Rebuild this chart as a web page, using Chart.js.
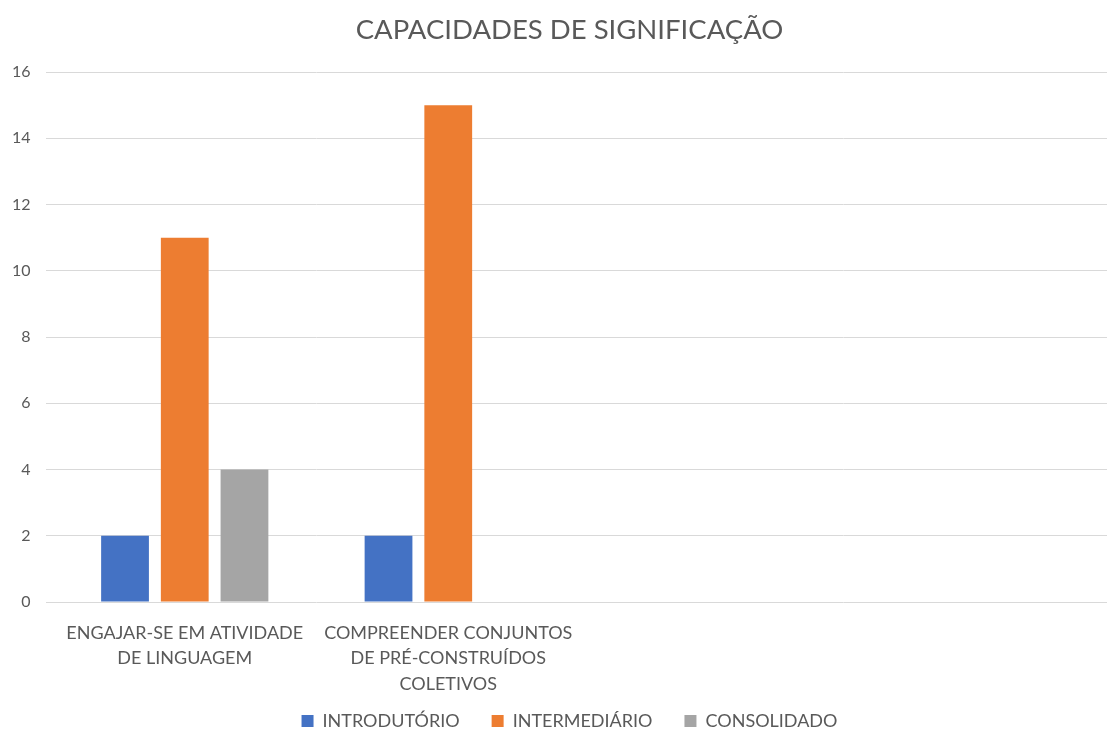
<!DOCTYPE html>
<html>
<head>
<meta charset="utf-8">
<script src="https://cdn.jsdelivr.net/npm/chart.js@4"></script>
<style>
  html, body { margin: 0; padding: 0; background: #fff; }
  #wrap { width: 1107px; height: 731px; }
</style>
</head>
<body>
<div id="wrap"><canvas id="capChart"></canvas></div>
<script>
// data
const categories = [
    ['ENGAJAR-SE EM ATIVIDADE', 'DE LINGUAGEM'],
    ['COMPREENDER CONJUNTOS', 'DE PRÉ-CONSTRUÍDOS', 'COLETIVOS'],
    '',
    ''
];
const introdutorio = [2, 2, null, null];
const intermediario = [11, 15, null, null];
const consolidado = [4, null, null, null];
const seriesNames = ['INTRODUTÓRIO', 'INTERMEDIÁRIO', 'CONSOLIDADO'];
const yTicks = [0, 2, 4, 6, 8, 10, 12, 14, 16];

const textColor = '#595959';
const fontFamily = 'Lato, "Open Sans", sans-serif';

// Chart.js clips tick labels to the axis box; let the 3-line label run down to the legend
const labelRoom = {
    id: 'labelRoom',
    afterLayout(chart) {
        chart.scales.x.bottom = chart.height;
    }
};

const ctx = document.getElementById('capChart').getContext('2d');
const capChart = new Chart(ctx, {
    type: 'bar',
    data: {
        labels: categories,
        datasets: [{
            label: seriesNames[0],
            data: introdutorio,
            backgroundColor: '#4472C4'
        }, {
            label: seriesNames[1],
            data: intermediario,
            backgroundColor: '#ED7D31'
        }, {
            label: seriesNames[2],
            data: consolidado,
            backgroundColor: '#A5A5A5'
        }]
    },
    plugins: [labelRoom],
    options: {
        responsive: true,
        maintainAspectRatio: false,
        animation: false,
        categoryPercentage: 0.68,
        barPercentage: 0.8,
        layout: {
            // left padding moves title/legend centre to where the original has it
            padding: { left: 32, right: 0, top: 0, bottom: -9 }
        },
        plugins: {
            title: {
                display: true,
                text: 'CAPACIDADES DE SIGNIFICAÇÃO',
                color: textColor,
                font: { family: fontFamily, size: 27.5, weight: 'normal' },
                padding: { top: 14, bottom: 25 }
            },
            legend: {
                position: 'bottom',
                labels: {
                    color: textColor,
                    font: { family: fontFamily, size: 18 },
                    boxWidth: 12,
                    boxHeight: 12,
                    padding: 32
                }
            },
            tooltip: { enabled: false }
        },
        scales: {
            x: {
                grid: { display: false, drawTicks: false },
                border: { display: false },
                ticks: {
                    color: textColor,
                    font: { family: fontFamily, size: 18, lineHeight: 1.42 },
                    padding: 18,
                    maxRotation: 0,
                    autoSkip: false
                },
                afterFit: function(scale) { scale.height = 78; }
            },
            y: {
                min: 0,
                max: 16,
                afterBuildTicks: function(scale) {
                    scale.ticks = yTicks.map(v => ({ value: v }));
                },
                grid: {
                    color: '#D9D9D9',
                    tickColor: '#D9D9D9',
                    tickLength: 7
                },
                border: { display: false },
                ticks: {
                    color: textColor,
                    font: { family: fontFamily, size: 16 },
                    // mirrored labels are not clipped to the narrow axis box
                    mirror: true,
                    crossAlign: 'far',
                    padding: -41
                },
                afterFit: function(scale) { scale.width = 21; }
            }
        }
    }
});
</script>
</body>
</html>
